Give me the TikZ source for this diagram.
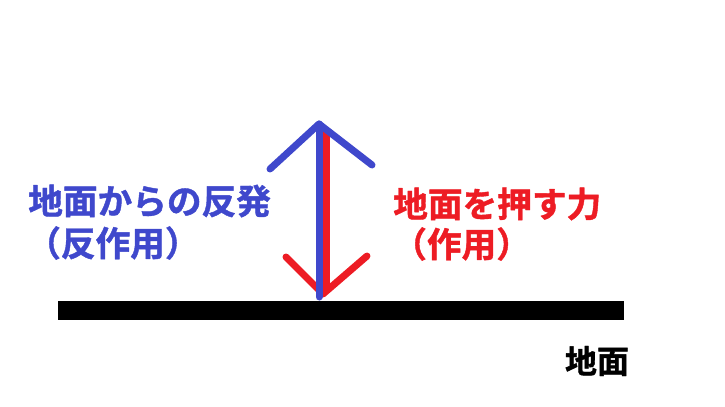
\documentclass[tikz,border=0pt]{standalone}
\usepackage{fontspec}
\newfontfamily\jp{Noto Sans CJK JP Bold}[FakeBold=1.2]
\definecolor{indigo}{RGB}{63,72,204}
\definecolor{paintred}{RGB}{237,28,36}

\begin{document}
\begin{tikzpicture}[x=0.75pt,y=-0.75pt, line cap=round, line join=round,
        every node/.style={inner sep=0pt},
        lblue/.style={anchor=west, text=indigo, font=\jp\fontsize{26}{26}\selectfont},
        lred/.style={anchor=west, text=paintred, font=\jp\fontsize{26}{26}\selectfont},
        force/.style={line width=5.25pt}]

        \useasboundingbox (0,0) rectangle (725,407);

        %===========================
        % Ground
        %===========================
        \draw node (G) at (340.5,310) [fill=black, rectangle, minimum width=424.5pt, minimum height=14.25pt]{};
        \node (Gt) at (597,361) [font=\jp\fontsize{24}{24}\selectfont] {地面};

        %===========================
        % Forces
        %===========================
        \coordinate (Rtop) at (326,131);
        \coordinate (Rbot) at (326,290);
        \coordinate (Rtip) at (323,294);
        \coordinate (RL) at (286,257);
        \coordinate (RR) at (367,256);
        \draw[force, paintred] (Rtop) -- (Rbot);
        \draw[force, paintred] (RL) -- (Rtip) -- (RR);

        \coordinate (Btip) at (319,124);
        \coordinate (Bbot) at (319,297);
        \coordinate (BL) at (270,169);
        \coordinate (BR) at (372,165);
        \draw[force, indigo] (Bbot) -- (Btip);
        \draw[force, indigo] (BL) -- (Btip) -- (BR);

        %===========================
        % Labels
        %===========================
        \node (L1) at (28,201) [lblue] {地面からの反発};
        \node (L2) at (26,243) [lblue] {（反作用）};
        \node (R1) at (393,204) [lred] {地面を押す力};
        \node (R2) at (392,244) [lred] {（作用）};
\end{tikzpicture}
\end{document}
